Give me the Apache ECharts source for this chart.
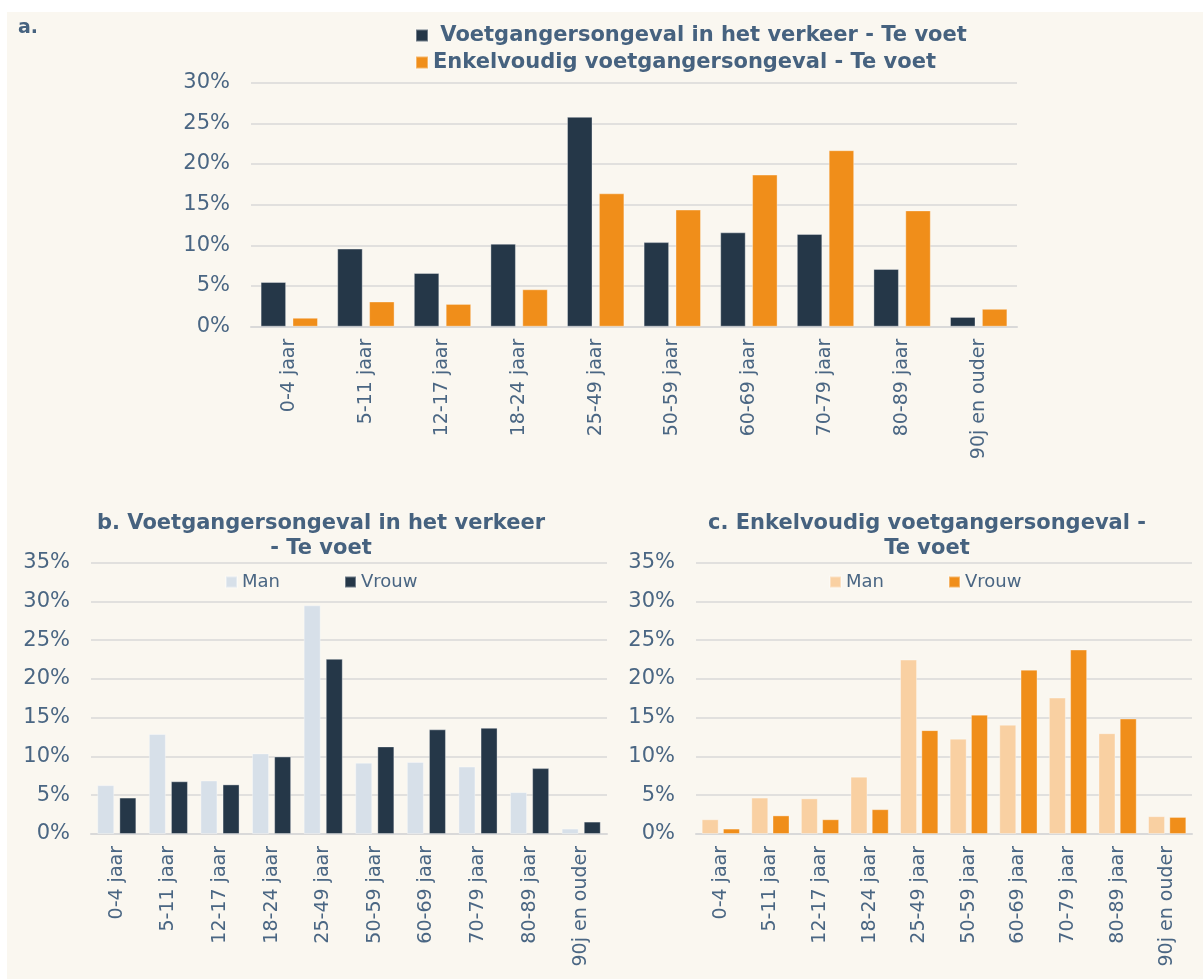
<!DOCTYPE html>
<html>
<head>
<meta charset="utf-8">
<script src="https://cdn.jsdelivr.net/npm/echarts@6/dist/echarts.min.js"></script>
<style>
html,body{margin:0;padding:0;background:#ffffff;}
#c{width:1203px;height:979px;}
</style>
</head>
<body>
<div id="c"></div>
<script>
// ---- data ----
var categories = ['0-4 jaar','5-11 jaar','12-17 jaar','18-24 jaar','25-49 jaar','50-59 jaar','60-69 jaar','70-79 jaar','80-89 jaar','90j en ouder'];
var seriesNamesA = ['Voetgangersongeval in het verkeer - Te voet','Enkelvoudig voetgangersongeval - Te voet'];
var aVerkeer    = [5.5, 9.6, 6.6, 10.2, 25.8, 10.4, 11.6, 11.4, 7.1, 1.2];
var aEnkelvoudig= [1.1, 3.1, 2.8, 4.6, 16.4, 14.4, 18.7, 21.7, 14.3, 2.2];
var bMan   = [6.3, 12.9, 6.9, 10.4, 29.5, 9.2, 9.3, 8.7, 5.4, 0.7];
var bVrouw = [4.7, 6.8, 6.4, 10.0, 22.6, 11.3, 13.5, 13.7, 8.5, 1.6];
var cMan   = [1.9, 4.7, 4.6, 7.4, 22.5, 12.3, 14.1, 17.6, 13.0, 2.3];
var cVrouw = [0.7, 2.4, 1.9, 3.2, 13.4, 15.4, 21.2, 23.8, 14.9, 2.2];
var titleA = 'a.';
var titleB = 'b. Voetgangersongeval in het verkeer\n- Te voet';
var titleC = 'c. Enkelvoudig voetgangersongeval -\nTe voet';
var sexNames = ['Man','Vrouw'];

// ---- styles ----
var FONT = 'DejaVu Sans';
var TXT = '#4A6683';
var TTL = '#46627F';
var GRID = '#D9D9D9';
var NAVY = '#253748';
var ORANGE = '#F08E1A';
var LIGHTBLUE = '#D7E0E9';
var PEACH = '#F9D0A2';
var BG = '#FAF7F0';

function yAxis(idx, max){
  return {
    type:'value', gridIndex:idx, min:0, max:max, interval:5,
    axisLabel:{formatter:'{value}%', color:TXT, fontFamily:FONT, fontSize:21, margin:21},
    axisLine:{show:false}, axisTick:{show:false},
    splitLine:{lineStyle:{color:GRID, width:1.5}}
  };
}
function xAxis(idx){
  return {
    type:'category', gridIndex:idx, data:categories,
    axisLabel:{rotate:90, color:TXT, fontFamily:FONT, fontSize:19, margin:12, interval:0},
    axisLine:{lineStyle:{color:GRID, width:2}}, axisTick:{show:false}
  };
}
function bar(name, data, color, idx, width, gap){
  return {
    type:'bar', name:name, data:data, xAxisIndex:idx, yAxisIndex:idx,
    barWidth:width, barGap:gap,
    itemStyle:{color:color, borderColor:'rgba(255,255,255,0.35)', borderWidth:1},
    silent:true, animation:false
  };
}

var chart = echarts.init(document.getElementById('c'), null, {renderer:'canvas'});
chart.setOption({
  animation:false,
  backgroundColor:'#ffffff',
  graphic:[
    {type:'rect', z:-10, shape:{x:7, y:12, width:1196, height:967}, style:{fill:BG}}
  ],
  title:[
    {text:titleA, left:13, top:14, textStyle:{color:TTL, fontFamily:FONT, fontSize:19, fontWeight:'bold'}},
    {text:titleB, left:316, top:506, textAlign:'center',
     textStyle:{color:TTL, fontFamily:FONT, fontSize:21, fontWeight:'bold', lineHeight:25}},
    {text:titleC, left:922, top:506, textAlign:'center',
     textStyle:{color:TTL, fontFamily:FONT, fontSize:21, fontWeight:'bold', lineHeight:25}}
  ],
  legend:[
    {data:seriesNamesA, orient:'vertical', left:410, top:20, itemWidth:12, itemHeight:12, itemGap:6,
     icon:'rect',
     formatter:function(n){ return n === seriesNamesA[0] ? ' ' + n : n; },
     textStyle:{color:TTL, fontFamily:FONT, fontSize:21, fontWeight:'bold', lineHeight:20}},
    {data:[{name:'Man_b', icon:'rect'},{name:'Vrouw_b', icon:'rect'}], left:220, top:568,
     itemWidth:11, itemHeight:11, itemGap:64,
     formatter:function(n){ return n.split('_')[0]; },
     textStyle:{color:TXT, fontFamily:FONT, fontSize:18}},
    {data:[{name:'Man_c', icon:'rect'},{name:'Vrouw_c', icon:'rect'}], left:824, top:568,
     itemWidth:11, itemHeight:11, itemGap:64,
     formatter:function(n){ return n.split('_')[0]; },
     textStyle:{color:TXT, fontFamily:FONT, fontSize:18}}
  ],
  grid:[
    {left:251, right:186, top:82.7, bottom:652.3},
    {left:91, right:596, top:562.7, bottom:145},
    {left:696, right:11, top:562.7, bottom:145}
  ],
  xAxis:[xAxis(0), xAxis(1), xAxis(2)],
  yAxis:[yAxis(0,30), yAxis(1,35), yAxis(2,35)],
  series:[
    bar(seriesNamesA[0], aVerkeer, NAVY, 0, 25.5, '25%'),
    bar(seriesNamesA[1], aEnkelvoudig, ORANGE, 0, 25.5, '25%'),
    bar(sexNames[0]+'_b', bMan, LIGHTBLUE, 1, 17, '30%'),
    bar(sexNames[1]+'_b', bVrouw, NAVY, 1, 17, '30%'),
    bar(sexNames[0]+'_c', cMan, PEACH, 2, 17, '25%'),
    bar(sexNames[1]+'_c', cVrouw, ORANGE, 2, 17, '25%')
  ]
});
</script>
</body>
</html>
